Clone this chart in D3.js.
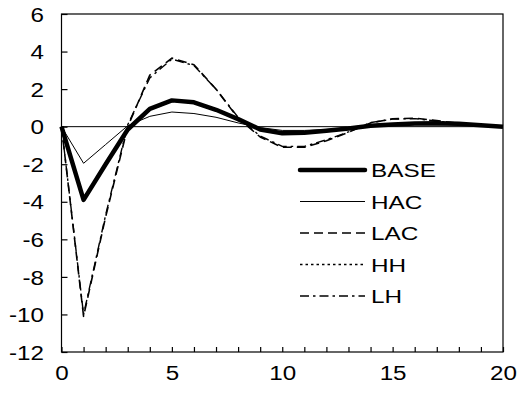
<!DOCTYPE html>
<html>
<head>
<meta charset="utf-8">
<script src="https://cdn.jsdelivr.net/npm/d3@7"></script>
<style>
  body { margin: 0; background: #fff; }
  text { font-family: "Liberation Sans", Arial, sans-serif; fill: #000; }
</style>
</head>
<body>
<svg id="chart" width="520" height="403"></svg>
<script>
const periods = d3.range(0, 21);
const yTicks = [-12, -10, -8, -6, -4, -2, 0, 2, 4, 6];
const xLabels = [0, 5, 10, 15, 20];

const base = [0, -3.9, -2.0, -0.15, 0.95, 1.4, 1.3, 0.9, 0.4, -0.15, -0.35, -0.32, -0.22, -0.1, 0.05, 0.12, 0.17, 0.18, 0.15, 0.08, 0];
const hac = [0, -1.95, -0.95, 0.05, 0.55, 0.78, 0.7, 0.5, 0.2, -0.05, -0.2, -0.2, -0.15, -0.08, 0.02, 0.08, 0.1, 0.1, 0.08, 0.05, 0];
const lac = [0, -10.1, -4.8, 0, 2.75, 3.65, 3.3, 2.0, 0.45, -0.55, -1.1, -1.1, -0.75, -0.3, 0.2, 0.42, 0.45, 0.32, 0.18, 0.08, 0];
const hh = [0, -3.8, -1.9, -0.1, 0.9, 1.35, 1.25, 0.88, 0.38, -0.12, -0.32, -0.3, -0.22, -0.1, 0.04, 0.12, 0.16, 0.17, 0.14, 0.07, 0];
const lh = [0, -10.0, -4.7, 0.1, 2.6, 3.6, 3.25, 2.0, 0.5, -0.5, -1.05, -1.05, -0.7, -0.28, 0.22, 0.4, 0.43, 0.3, 0.17, 0.07, 0];

const seriesNames = ["BASE", "HAC", "LAC", "HH", "LH"];
const seriesValues = [base, hac, lac, hh, lh];

// line styles per series
const styles = {
  BASE: { width: 4.5, dash: null },
  HAC: { width: 1, dash: null },
  LAC: { width: 1.6, dash: "9,5" },
  HH: { width: 1.4, dash: "2.5,3" },
  LH: { width: 1.4, dash: "9,4,2.5,4" },
};

const svg = d3.select("#chart");
const plotLeft = 61.5, plotRight = 503, plotTop = 14, plotBottom = 352;
const tickFont = 20.5, tickStretch = 1.18;
const legendFont = 19, legendStretch = 1.28;

const x = d3.scaleLinear().domain([0, 20]).range([plotLeft, plotRight]);
const y = d3.scaleLinear().domain([-12, 6]).range([plotBottom, plotTop]);

// plot frame
svg.append("rect")
  .attr("x", plotLeft)
  .attr("y", plotTop)
  .attr("width", plotRight - plotLeft)
  .attr("height", plotBottom - plotTop)
  .attr("fill", "none")
  .attr("stroke", "#000")
  .attr("stroke-width", 1.2);

// zero line
svg.append("line")
  .attr("x1", x(0))
  .attr("x2", x(20))
  .attr("y1", y(0))
  .attr("y2", y(0))
  .attr("stroke", "#000")
  .attr("stroke-width", 1);

// y axis
const yAxis = svg.append("g")
  .attr("transform", `translate(${plotLeft},0)`)
  .call(d3.axisLeft(y).tickValues(yTicks).tickSize(-6).tickFormat(d3.format("d")));
yAxis.select(".domain").remove();
yAxis.selectAll("line").attr("stroke", "#000").attr("stroke-width", 1.2);
yAxis.selectAll("text")
  .attr("font-size", tickFont)
  .attr("font-family", null)
  .attr("x", -17.5 / tickStretch)
  .attr("dy", "0.35em")
  .attr("transform", `scale(${tickStretch},1)`)
  .text((d) => (d < 0 ? "-" + Math.abs(d) : d));

// x axis
const xAxis = svg.append("g")
  .attr("transform", `translate(0,${plotBottom})`)
  .call(d3.axisBottom(x).tickValues(periods).tickSize(-5)
    .tickFormat((d) => (xLabels.includes(d) ? d : "")));
xAxis.select(".domain").remove();
xAxis.selectAll("line").attr("stroke", "#000").attr("stroke-width", 1.2);
xAxis.selectAll("text")
  .attr("font-size", tickFont)
  .attr("font-family", null)
  .attr("y", 13)
  .attr("dy", "0.71em")
  .attr("transform", `scale(${tickStretch},1)`);

// series lines
const line = d3.line()
  .x((d, i) => x(periods[i]))
  .y((d) => y(d));

seriesNames.forEach((name, k) => {
  svg.append("path")
    .datum(seriesValues[k])
    .attr("fill", "none")
    .attr("stroke", "#000")
    .attr("stroke-width", styles[name].width)
    .attr("stroke-dasharray", styles[name].dash)
    .attr("stroke-linejoin", "round")
    .attr("d", line);
});

// legend
const legend = svg.append("g").attr("transform", "translate(300,170)");
const rowGap = 31.5;
seriesNames.forEach((name, k) => {
  const g = legend.append("g").attr("transform", `translate(0,${k * rowGap})`);
  g.append("line")
    .attr("x1", 0)
    .attr("x2", 65)
    .attr("stroke", "#000")
    .attr("stroke-width", styles[name].width)
    .attr("stroke-dasharray", styles[name].dash)
    .attr("stroke-linecap", name === "BASE" ? "round" : "butt");
  g.append("text")
    .attr("x", 71 / legendStretch)
    .attr("y", 7)
    .attr("font-size", legendFont)
    .attr("transform", `scale(${legendStretch},1)`)
    .text(name);
});
</script>
</body>
</html>
